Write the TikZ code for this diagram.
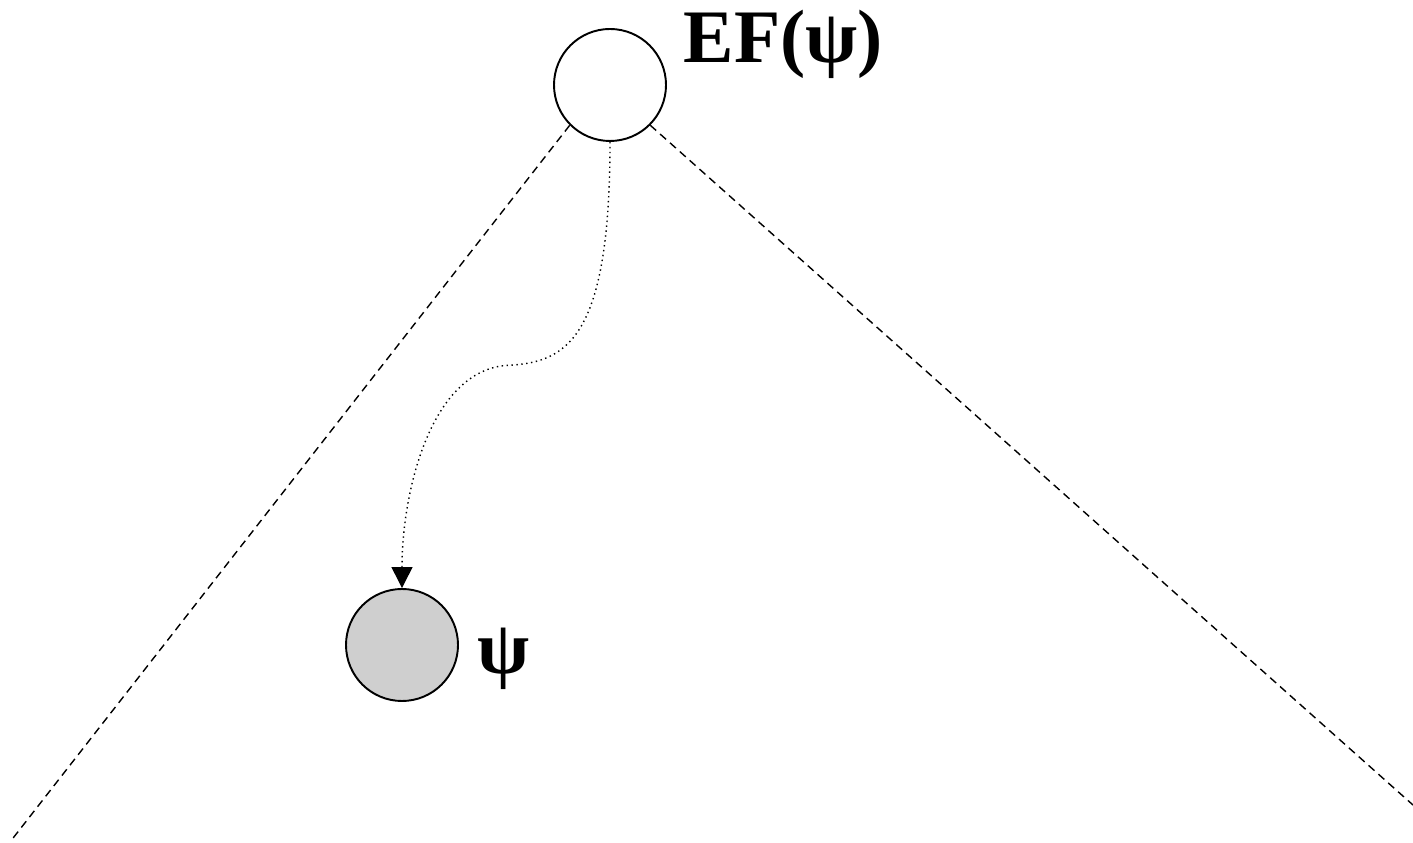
\documentclass[tikz,border=0pt]{standalone}
\usepackage{fontspec}
\setmainfont{Liberation Serif}
\usetikzlibrary{arrows.meta,positioning}

\begin{document}
\begin{tikzpicture}[
      >={Triangle[length=0.42cm,width=0.42cm]},
      state/.style={draw, circle, line width=1.1pt, minimum size=2.24cm, inner sep=0pt},
      rama/.style={dashed, line width=0.8pt, dash pattern=on 4.5pt off 3pt},
      camino/.style={->, dotted, line width=0.8pt},
      etiq/.style={font=\fontsize{43}{47}\selectfont\bfseries}
  ]
      \useasboundingbox (0,0) rectangle (28.26,16.86);

      % --- nodos ---
      \node[state, fill=white] (ef) at (12.2,15.16) {};
      \node[state, fill=black!19] (psi) at (8.04,3.96) {};
      \node[etiq, anchor=west] (lef) at (13.55,15.98) {EF(ψ)};
      \node[etiq, anchor=west] (lpsi) at (9.42,3.68) {ψ};

      % --- ramas del arbol ---
      \coordinate (izq) at (0.2,0.02);
      \coordinate (der) at (28.26,0.76);
      \draw[rama] (ef.south west) -- (izq);
      \draw[rama] (ef.south east) -- (der);

      % --- camino ---
      \draw[camino] (ef.south) .. controls (12.2,10.0) and (11.3,9.6) .. (10.1,9.55)
                    .. controls (8.6,9.4) and (8.04,7.0) .. (psi.north);

  \end{tikzpicture}
\end{document}
